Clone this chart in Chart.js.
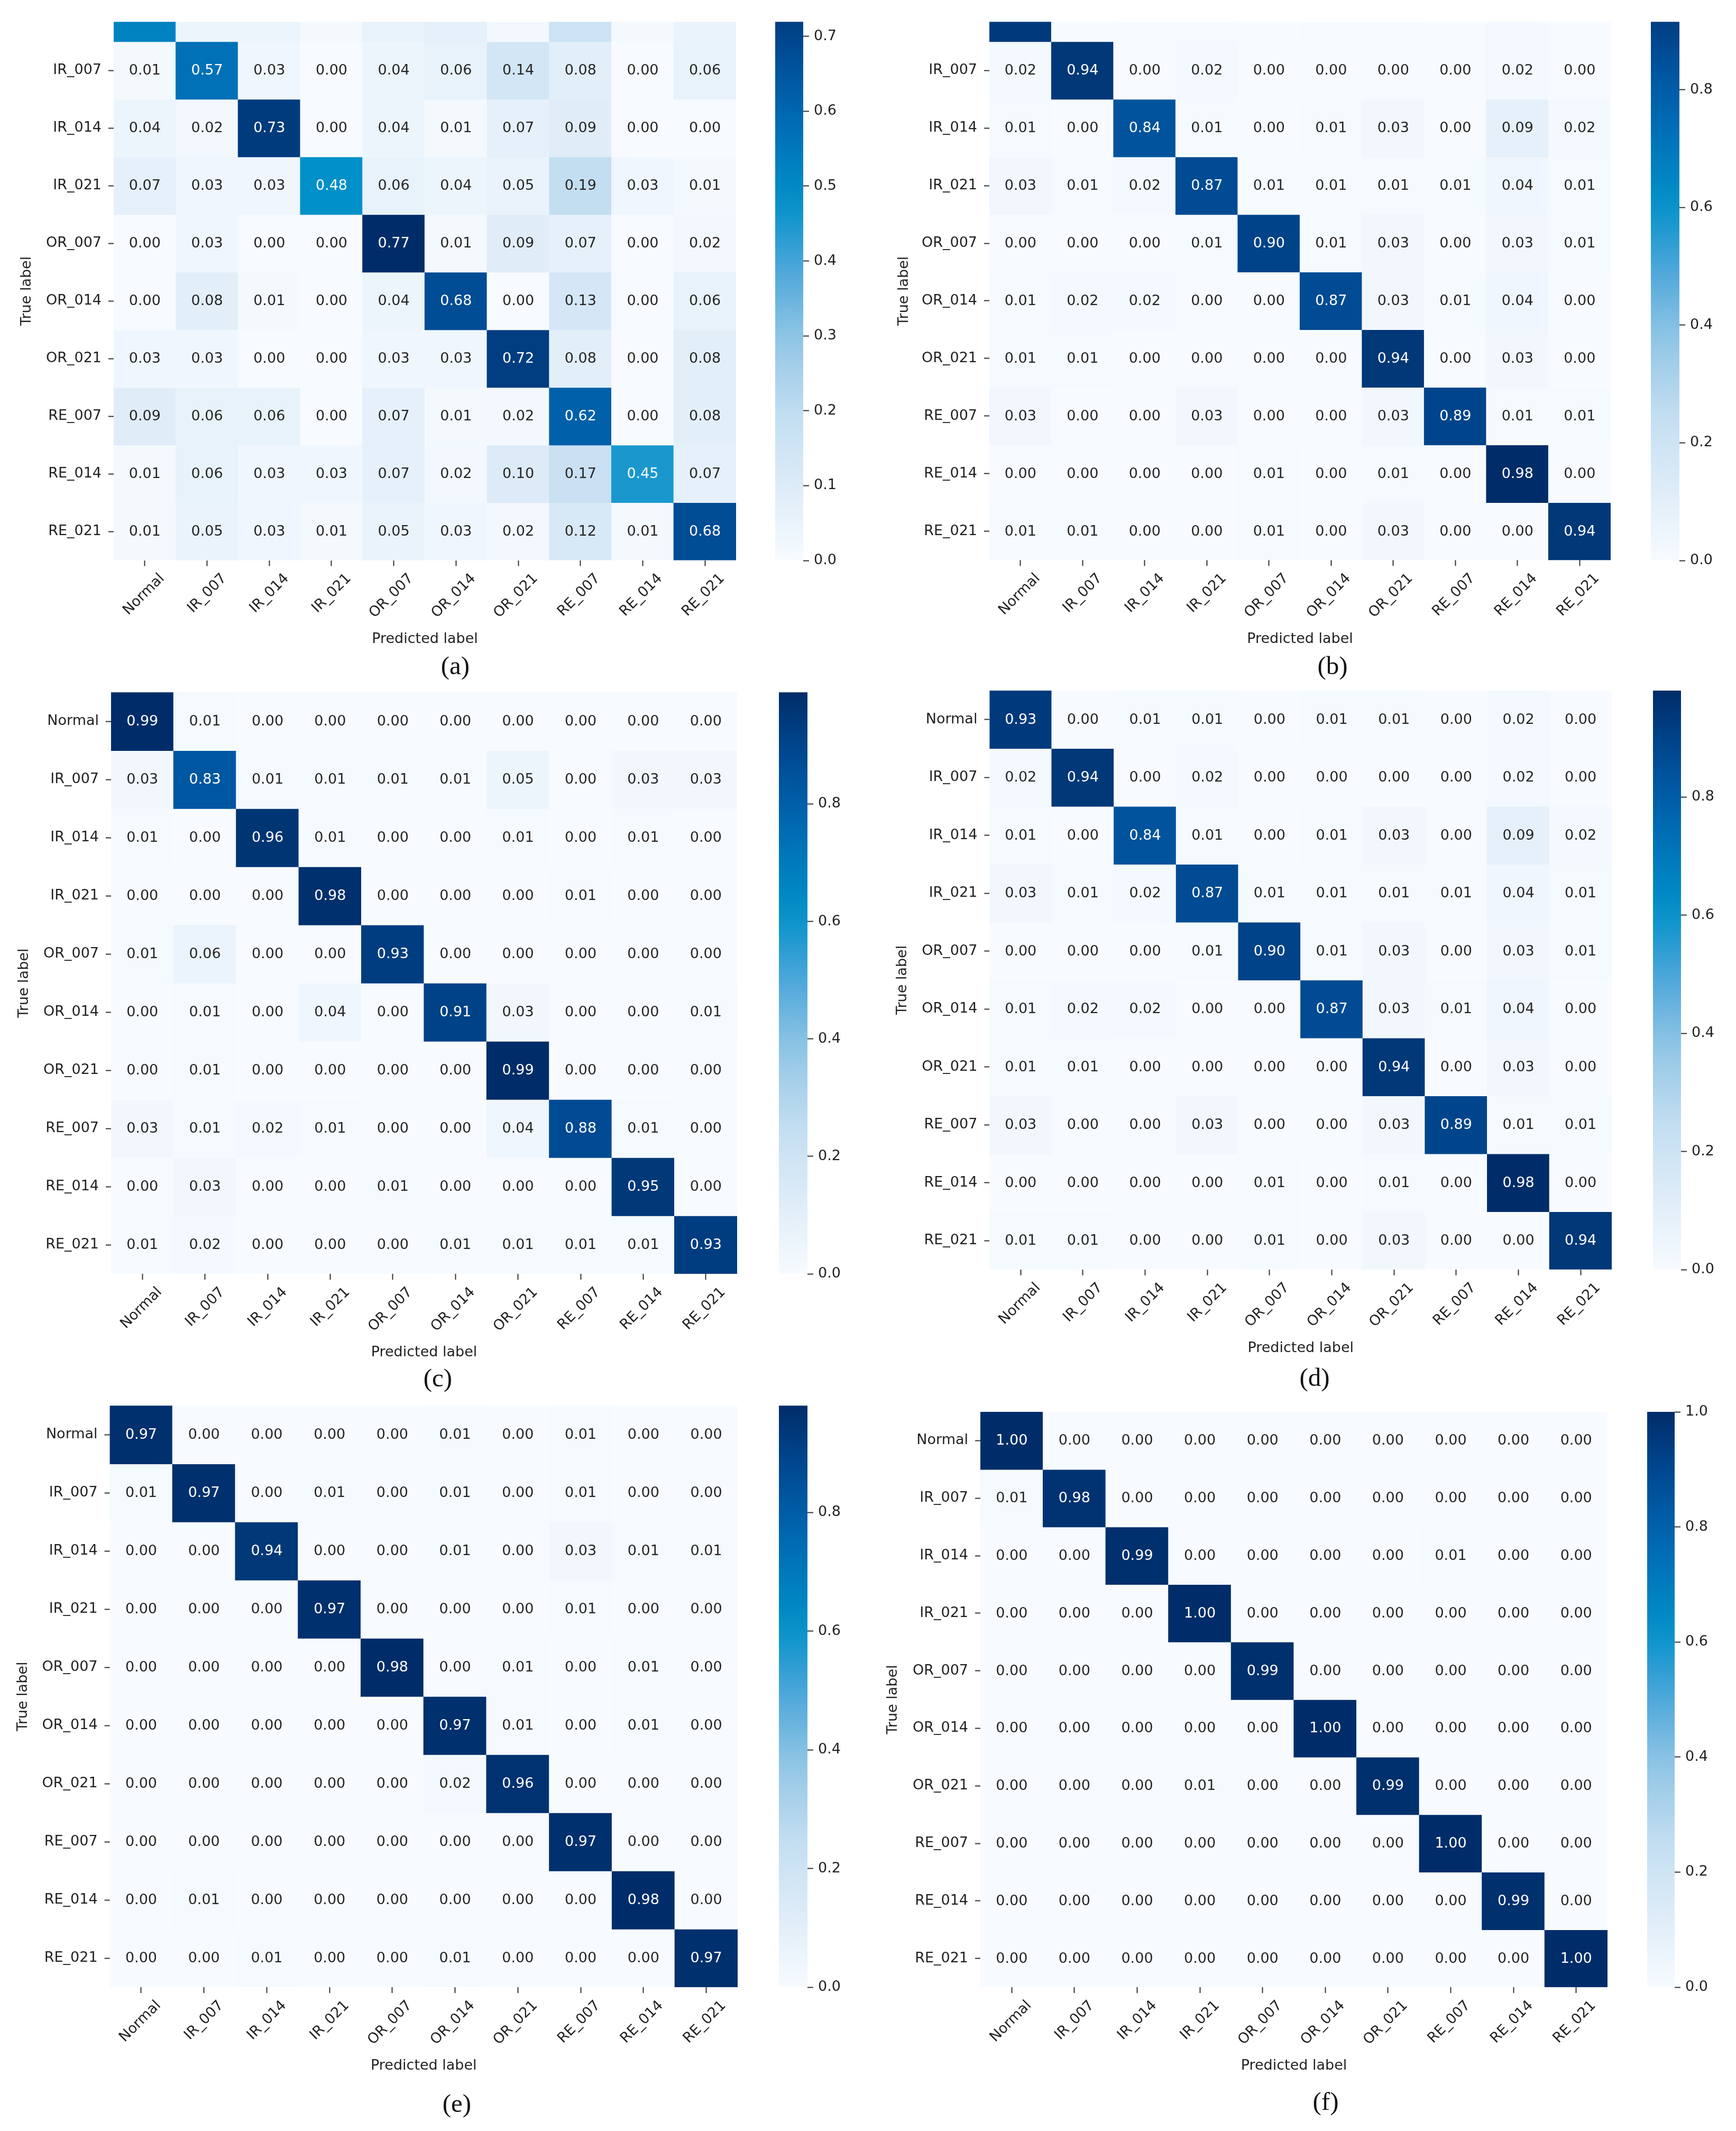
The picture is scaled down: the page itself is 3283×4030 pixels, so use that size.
<!DOCTYPE html>
<html lang="en">
<head>
<meta charset="UTF-8" />
<title>Confusion matrices</title>
<script src="https://cdn.jsdelivr.net/npm/chart.js"></script>
<style>
  body { margin: 0; background: #fff; }
  #page { position: relative; width: 3283px; height: 4030px; overflow: hidden; background: #fff; }
  #page canvas { position: absolute; }
  .caption {
    position: absolute;
    font-family: "Liberation Serif", "Times New Roman", serif;
    font-size: 49px;
    color: #111;
    transform: translate(-50%, -50%);
    white-space: nowrap;
  }
</style>
</head>
<body>
<div id="page"></div>
<script>
// class names, used for rows (true label) and columns (predicted label)
const classes = ["Normal", "IR_007", "IR_014", "IR_021", "OR_007", "OR_014", "OR_021", "RE_007", "RE_014", "RE_021"];

// (a) - the Normal row is cut off in the picture, its values are guessed from the colours
const matrixA = [
  [0.52, 0.04, 0.04, 0.01, 0.06, 0.07, 0.02, 0.16, 0.01, 0.05],
  [0.01, 0.57, 0.03, 0.00, 0.04, 0.06, 0.14, 0.08, 0.00, 0.06],
  [0.04, 0.02, 0.73, 0.00, 0.04, 0.01, 0.07, 0.09, 0.00, 0.00],
  [0.07, 0.03, 0.03, 0.48, 0.06, 0.04, 0.05, 0.19, 0.03, 0.01],
  [0.00, 0.03, 0.00, 0.00, 0.77, 0.01, 0.09, 0.07, 0.00, 0.02],
  [0.00, 0.08, 0.01, 0.00, 0.04, 0.68, 0.00, 0.13, 0.00, 0.06],
  [0.03, 0.03, 0.00, 0.00, 0.03, 0.03, 0.72, 0.08, 0.00, 0.08],
  [0.09, 0.06, 0.06, 0.00, 0.07, 0.01, 0.02, 0.62, 0.00, 0.08],
  [0.01, 0.06, 0.03, 0.03, 0.07, 0.02, 0.10, 0.17, 0.45, 0.07],
  [0.01, 0.05, 0.03, 0.01, 0.05, 0.03, 0.02, 0.12, 0.01, 0.68],
];

const matrixC = [
  [0.99, 0.01, 0.00, 0.00, 0.00, 0.00, 0.00, 0.00, 0.00, 0.00],
  [0.03, 0.83, 0.01, 0.01, 0.01, 0.01, 0.05, 0.00, 0.03, 0.03],
  [0.01, 0.00, 0.96, 0.01, 0.00, 0.00, 0.01, 0.00, 0.01, 0.00],
  [0.00, 0.00, 0.00, 0.98, 0.00, 0.00, 0.00, 0.01, 0.00, 0.00],
  [0.01, 0.06, 0.00, 0.00, 0.93, 0.00, 0.00, 0.00, 0.00, 0.00],
  [0.00, 0.01, 0.00, 0.04, 0.00, 0.91, 0.03, 0.00, 0.00, 0.01],
  [0.00, 0.01, 0.00, 0.00, 0.00, 0.00, 0.99, 0.00, 0.00, 0.00],
  [0.03, 0.01, 0.02, 0.01, 0.00, 0.00, 0.04, 0.88, 0.01, 0.00],
  [0.00, 0.03, 0.00, 0.00, 0.01, 0.00, 0.00, 0.00, 0.95, 0.00],
  [0.01, 0.02, 0.00, 0.00, 0.00, 0.01, 0.01, 0.01, 0.01, 0.93],
];

const matrixD = [
  [0.93, 0.00, 0.01, 0.01, 0.00, 0.01, 0.01, 0.00, 0.02, 0.00],
  [0.02, 0.94, 0.00, 0.02, 0.00, 0.00, 0.00, 0.00, 0.02, 0.00],
  [0.01, 0.00, 0.84, 0.01, 0.00, 0.01, 0.03, 0.00, 0.09, 0.02],
  [0.03, 0.01, 0.02, 0.87, 0.01, 0.01, 0.01, 0.01, 0.04, 0.01],
  [0.00, 0.00, 0.00, 0.01, 0.90, 0.01, 0.03, 0.00, 0.03, 0.01],
  [0.01, 0.02, 0.02, 0.00, 0.00, 0.87, 0.03, 0.01, 0.04, 0.00],
  [0.01, 0.01, 0.00, 0.00, 0.00, 0.00, 0.94, 0.00, 0.03, 0.00],
  [0.03, 0.00, 0.00, 0.03, 0.00, 0.00, 0.03, 0.89, 0.01, 0.01],
  [0.00, 0.00, 0.00, 0.00, 0.01, 0.00, 0.01, 0.00, 0.98, 0.00],
  [0.01, 0.01, 0.00, 0.00, 0.01, 0.00, 0.03, 0.00, 0.00, 0.94],
];

// (b) shows the very same numbers as (d), only with the top row cut off
const matrixB = matrixD;

const matrixE = [
  [0.97, 0.00, 0.00, 0.00, 0.00, 0.01, 0.00, 0.01, 0.00, 0.00],
  [0.01, 0.97, 0.00, 0.01, 0.00, 0.01, 0.00, 0.01, 0.00, 0.00],
  [0.00, 0.00, 0.94, 0.00, 0.00, 0.01, 0.00, 0.03, 0.01, 0.01],
  [0.00, 0.00, 0.00, 0.97, 0.00, 0.00, 0.00, 0.01, 0.00, 0.00],
  [0.00, 0.00, 0.00, 0.00, 0.98, 0.00, 0.01, 0.00, 0.01, 0.00],
  [0.00, 0.00, 0.00, 0.00, 0.00, 0.97, 0.01, 0.00, 0.01, 0.00],
  [0.00, 0.00, 0.00, 0.00, 0.00, 0.02, 0.96, 0.00, 0.00, 0.00],
  [0.00, 0.00, 0.00, 0.00, 0.00, 0.00, 0.00, 0.97, 0.00, 0.00],
  [0.00, 0.01, 0.00, 0.00, 0.00, 0.00, 0.00, 0.00, 0.98, 0.00],
  [0.00, 0.00, 0.01, 0.00, 0.00, 0.01, 0.00, 0.00, 0.00, 0.97],
];

const matrixF = [
  [1.00, 0.00, 0.00, 0.00, 0.00, 0.00, 0.00, 0.00, 0.00, 0.00],
  [0.01, 0.98, 0.00, 0.00, 0.00, 0.00, 0.00, 0.00, 0.00, 0.00],
  [0.00, 0.00, 0.99, 0.00, 0.00, 0.00, 0.00, 0.01, 0.00, 0.00],
  [0.00, 0.00, 0.00, 1.00, 0.00, 0.00, 0.00, 0.00, 0.00, 0.00],
  [0.00, 0.00, 0.00, 0.00, 0.99, 0.00, 0.00, 0.00, 0.00, 0.00],
  [0.00, 0.00, 0.00, 0.00, 0.00, 1.00, 0.00, 0.00, 0.00, 0.00],
  [0.00, 0.00, 0.00, 0.01, 0.00, 0.00, 0.99, 0.00, 0.00, 0.00],
  [0.00, 0.00, 0.00, 0.00, 0.00, 0.00, 0.00, 1.00, 0.00, 0.00],
  [0.00, 0.00, 0.00, 0.00, 0.00, 0.00, 0.00, 0.00, 0.99, 0.00],
  [0.00, 0.00, 0.00, 0.00, 0.00, 0.00, 0.00, 0.00, 0.00, 1.00],
];

// colour bar tick labels
const barTicksA = [0.0, 0.1, 0.2, 0.3, 0.4, 0.5, 0.6, 0.7];
const barTicks = [0.0, 0.2, 0.4, 0.6, 0.8];
const barTicksF = [0.0, 0.2, 0.4, 0.6, 0.8, 1.0];

// blues colour map, a bit more saturated than matplotlib's
const cmapStops = [
  [0.000, 247, 251, 255],
  [0.125, 222, 236, 248],
  [0.250, 195, 222, 241],
  [0.375, 150, 200, 230],
  [0.500, 80, 168, 218],
  [0.625, 0, 144, 200],
  [0.750, 0, 110, 182],
  [0.875, 0, 78, 152],
  [1.000, 0, 45, 105],
];

function cmap(t) {
  t = Math.min(1, Math.max(0, t));
  for (let i = 1; i < cmapStops.length; i++) {
    const a = cmapStops[i - 1], b = cmapStops[i];
    if (t <= b[0]) {
      const f = (t - a[0]) / (b[0] - a[0]);
      return [1, 2, 3].map((k) => Math.round(a[k] + (b[k] - a[k]) * f));
    }
  }
  return cmapStops[cmapStops.length - 1].slice(1);
}

const rgb = (c) => `rgb(${c[0]},${c[1]},${c[2]})`;

// same rule seaborn uses to pick white or dark annotation text
function luminance(c) {
  const lin = c.map((v) => {
    v /= 255;
    return v <= 0.03928 ? v / 12.92 : Math.pow((v + 0.055) / 1.055, 2.4);
  });
  return 0.2126 * lin[0] + 0.7152 * lin[1] + 0.0722 * lin[2];
}

const FONT = 27;
const LINE_H = FONT * 1.2;
const TEXT = "#222";
const TICK = "#333";

Chart.defaults.font.family = "'DejaVu Sans', sans-serif";
Chart.defaults.font.size = FONT;
Chart.defaults.color = TEXT;
Chart.defaults.animation = false;
Chart.defaults.plugins.legend.display = false;
Chart.defaults.plugins.tooltip.enabled = false;

// where each panel sits on the page (heat = heat map box, top may be above the cut)
const panels = [
  { matrix: matrixA, ticks: barTicksA, caption: "(a)",
    heat: { left: 215, right: 1392, top: -30.3, bottom: 1059.7, clip: 41.3 },
    bar: { left: 1466, right: 1519 }, titleX: 51, labelY: 1209, cap: [861, 1258] },
  { matrix: matrixB, ticks: barTicks, caption: "(b)",
    heat: { left: 1871, right: 3046, top: -30.3, bottom: 1059.5, clip: 41.3 },
    bar: { left: 3122, right: 3176 }, titleX: 1710, labelY: 1209, cap: [2520, 1258] },
  { matrix: matrixC, ticks: barTicks, caption: "(c)",
    heat: { left: 210, right: 1394, top: 1309.3, bottom: 2409.3 },
    bar: { left: 1473, right: 1527 }, titleX: 46, labelY: 2558, cap: [828, 2605] },
  { matrix: matrixD, ticks: barTicks, caption: "(d)",
    heat: { left: 1871.4, right: 3048, top: 1306, bottom: 2401 },
    bar: { left: 3126, right: 3179 }, titleX: 1707, labelY: 2550, cap: [2486, 2604] },
  { matrix: matrixE, ticks: barTicks, caption: "(e)",
    heat: { left: 207.6, right: 1395, top: 2658.3, bottom: 3758.3 },
    bar: { left: 1473, right: 1527 }, titleX: 44, labelY: 3907, cap: [864, 3977] },
  { matrix: matrixF, ticks: barTicksF, caption: "(f)",
    heat: { left: 1854, right: 3040, top: 2670, bottom: 3758.3 },
    bar: { left: 3115, right: 3167 }, titleX: 1689, labelY: 3907, cap: [2507, 3973] },
];

const page = document.getElementById("page");

function addCanvas(left, top, width, height) {
  const c = document.createElement("canvas");
  c.width = width;
  c.height = height;
  c.style.left = left + "px";
  c.style.top = top + "px";
  page.appendChild(c);
  return c;
}

const cellText = {
  id: "cellText",
  afterDatasetsDraw(chart, args, opts) {
    const { ctx, chartArea, scales } = chart;
    ctx.save();
    ctx.font = `${FONT}px 'DejaVu Sans', sans-serif`;
    ctx.textAlign = "center";
    ctx.textBaseline = "middle";
    opts.matrix.forEach((row, r) => {
      const py = scales.y.getPixelForValue(r);
      if (py < chartArea.top || py > chartArea.bottom) return;
      row.forEach((v, c) => {
        ctx.fillStyle = luminance(cmap(v / opts.vmax)) > 0.408 ? "#262626" : "#ffffff";
        ctx.fillText(v.toFixed(2), scales.x.getPixelForValue(c), py + 1);
      });
    });
    ctx.restore();
  },
};

function drawPanel(p) {
  const n = classes.length;
  const vmax = Math.max(...p.matrix.flat());
  const rowH = (p.heat.bottom - p.heat.top) / n;
  const clipTop = p.heat.clip ?? p.heat.top;
  const yMin = -0.5 + (clipTop - p.heat.top) / rowH;

  // heat map
  const padT = 30, padR = 20, padB = 10;
  const left = Math.round(p.titleX - LINE_H / 2);
  const top = Math.round(clipTop - padT);
  const axisH = p.labelY - p.heat.bottom + LINE_H / 2;
  const canvas = addCanvas(left, top,
    Math.round(p.heat.right + padR - left),
    Math.round(p.heat.bottom + axisH + padB - top));

  new Chart(canvas, {
    type: "bar",
    data: {
      labels: classes,
      datasets: p.matrix.map((row, r) => ({
        data: row.map(() => [r - 0.5, r + 0.5]),
        backgroundColor: row.map((v) => rgb(cmap(v / vmax))),
        grouped: false,
        barPercentage: 1,
        categoryPercentage: 1,
        borderWidth: 0,
        inflateAmount: 0.6,
      })),
    },
    plugins: [cellText],
    options: {
      responsive: false,
      layout: { padding: { left: 0, top: clipTop - top, right: padR, bottom: padB } },
      plugins: { cellText: { matrix: p.matrix, vmax } },
      scales: {
        x: {
          type: "category",
          offset: true,
          afterFit: (s) => { s.height = axisH; },
          ticks: { autoSkip: false, minRotation: 45, maxRotation: 45, labelOffset: 33, padding: 8 },
          grid: { drawOnChartArea: false, offset: false, tickLength: 11, tickWidth: 2, tickColor: TICK },
          border: { display: false },
          title: { display: true, text: "Predicted label", padding: 0 },
        },
        y: {
          type: "linear",
          reverse: true,
          min: yMin,
          max: n - 0.5,
          afterBuildTicks: (s) => {
            s.ticks = classes.map((_, i) => ({ value: i })).filter((t) => t.value >= s.min && t.value <= s.max);
          },
          afterFit: (s) => { s.width = p.heat.left - left; },
          ticks: { callback: (v) => classes[v], padding: 13 },
          grid: { drawOnChartArea: false, tickLength: 10, tickWidth: 2, tickColor: TICK },
          border: { display: false },
          title: { display: true, text: "True label", padding: 0 },
        },
      },
    },
  });

  // colour bar, cut at the same height as the heat map
  const barMax = vmax * (p.heat.bottom - clipTop) / (p.heat.bottom - p.heat.top);
  const barW = Math.round(p.bar.right - p.bar.left);
  const barCanvas = addCanvas(Math.round(p.bar.left), top, barW + 100,
    Math.round(p.heat.bottom + padT - top));

  new Chart(barCanvas, {
    type: "bar",
    data: {
      labels: [""],
      datasets: [{
        data: [[0, vmax]],
        barPercentage: 1,
        categoryPercentage: 1,
        borderWidth: 0,
        backgroundColor: (ctx) => {
          const chart = ctx.chart;
          if (!chart.chartArea) return rgb(cmap(0));
          const y = chart.scales.y;
          const g = chart.ctx.createLinearGradient(0, y.getPixelForValue(0), 0, y.getPixelForValue(vmax));
          for (let i = 0; i <= 20; i++) g.addColorStop(i / 20, rgb(cmap(i / 20)));
          return g;
        },
      }],
    },
    options: {
      responsive: false,
      layout: { padding: { left: 0, right: 0, top: clipTop - top, bottom: padT } },
      scales: {
        x: { display: false },
        y: {
          position: "right",
          min: 0,
          max: barMax,
          afterBuildTicks: (s) => {
            s.ticks = p.ticks.filter((v) => v <= s.max + 1e-9).map((v) => ({ value: v }));
          },
          afterFit: (s) => { s.width = 100; },
          ticks: { callback: (v) => v.toFixed(1), padding: 9 },
          grid: { drawOnChartArea: false, tickLength: 11, tickWidth: 2, tickColor: TICK },
          border: { display: false },
        },
      },
    },
  });

  const cap = document.createElement("div");
  cap.className = "caption";
  cap.textContent = p.caption;
  cap.style.left = p.cap[0] + "px";
  cap.style.top = p.cap[1] + "px";
  page.appendChild(cap);
}

panels.forEach(drawPanel);
</script>
</body>
</html>
